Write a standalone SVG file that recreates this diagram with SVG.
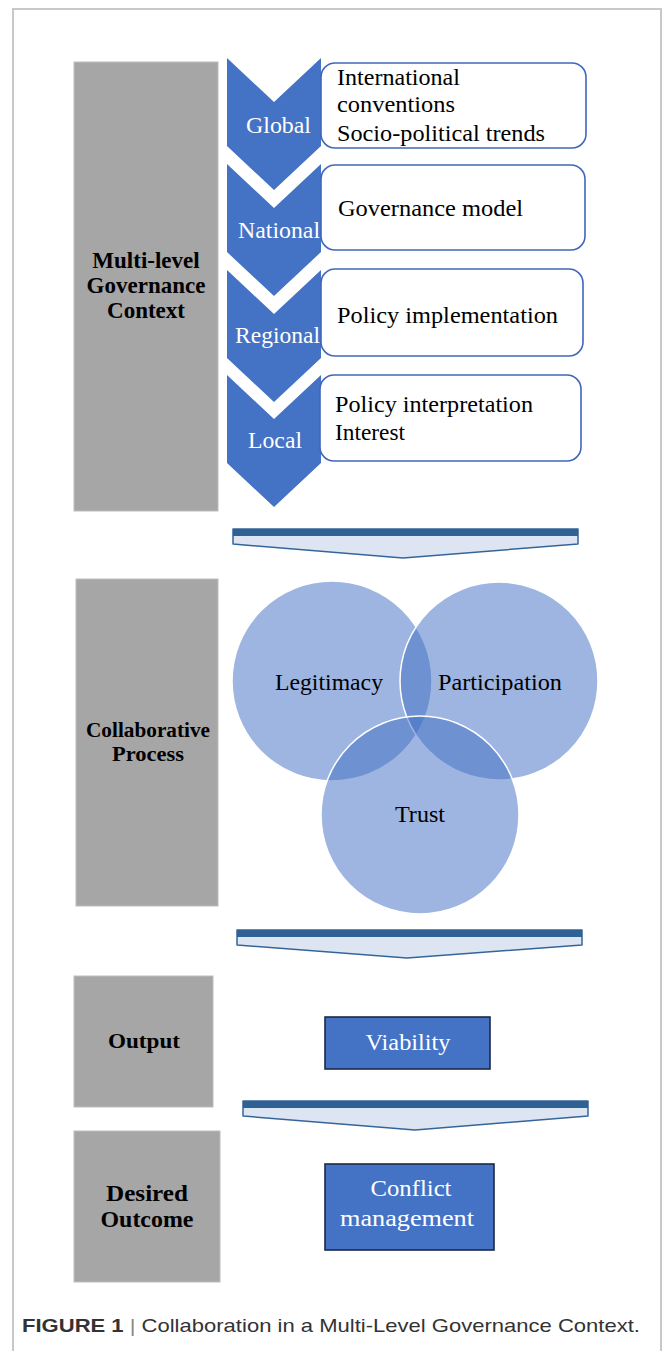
<svg xmlns="http://www.w3.org/2000/svg" width="663" height="1351" viewBox="0 0 663 1351">
  <defs>
    <style>
      .frame { stroke: #c8c8c8; stroke-width: 2; fill: none; }
      .stage { fill: #a6a6a6; stroke: #bdbdbd; stroke-width: 1; }
      .stage-label { font-family: "Liberation Serif", "Times New Roman", serif; font-weight: bold; fill: #000; text-anchor: middle; }
      .chev { fill: #4472c4; }
      .chev-label { font-family: "Liberation Serif", "Times New Roman", serif; font-size: 22.5px; fill: #ffffff; }
      .card { fill: #ffffff; stroke: #4067bb; stroke-width: 1.6; }
      .card-text { font-family: "Liberation Serif", "Times New Roman", serif; font-size: 22.5px; fill: #000; }
      .venn { fill: #4472c4; fill-opacity: 0.52; stroke: #ffffff; stroke-width: 1.5; }
      .venn-label { font-family: "Liberation Serif", "Times New Roman", serif; font-size: 22.5px; fill: #000; }
      .flow-body { fill: #dde5f3; stroke: #34659a; stroke-width: 1.5; stroke-linejoin: round; }
      .flow-band { fill: #2f6194; }
      .result { fill: #4472c4; stroke: #1c2a48; stroke-width: 1.6; }
      .result-text { font-family: "Liberation Serif", "Times New Roman", serif; font-size: 23px; fill: #ffffff; text-anchor: middle; }
      .caption { font-family: "Liberation Sans", Arial, sans-serif; font-size: 19px; fill: #333333; }
    </style>
  </defs>

  <rect width="663" height="1351" fill="#ffffff"/>

  <!-- figure frame -->
  <path class="frame" d="M13,1351 V9 H661 V1351"/>

  <!-- stage column -->
  <g id="stage-context">
    <rect class="stage" x="74" y="62" width="144" height="449"/>
    <text class="stage-label" font-size="23"><tspan x="146" y="268">Multi-level</tspan><tspan x="146" y="293">Governance</tspan><tspan x="146" y="318">Context</tspan></text>
  </g>
  <g id="stage-process">
    <rect class="stage" x="76" y="579" width="142" height="327"/>
    <text class="stage-label" font-size="20" x="148" y="737" textLength="124" lengthAdjust="spacingAndGlyphs">Collaborative</text>
    <text class="stage-label" font-size="20" x="148" y="761" textLength="72" lengthAdjust="spacingAndGlyphs">Process</text>
  </g>
  <g id="stage-output">
    <rect class="stage" x="74" y="976" width="139" height="131"/>
    <text class="stage-label" font-size="21" x="144" y="1048" textLength="72" lengthAdjust="spacingAndGlyphs">Output</text>
  </g>
  <g id="stage-outcome">
    <rect class="stage" x="74" y="1131" width="146" height="151"/>
    <text class="stage-label" font-size="23.5" x="147" y="1201" textLength="82" lengthAdjust="spacingAndGlyphs">Desired</text>
    <text class="stage-label" font-size="23.5" x="147" y="1227" textLength="93" lengthAdjust="spacingAndGlyphs">Outcome</text>
  </g>

  <!-- governance levels: chevron + description card -->
  <g id="level-global">
    <polygon class="chev" points="227,58 274,102 321,58 321,146 274,190 227,146"/>
    <text class="chev-label" x="246" y="133" textLength="65" lengthAdjust="spacingAndGlyphs">Global</text>
    <rect class="card" x="321" y="63" width="265" height="85" rx="14"/>
    <text class="card-text" x="337" y="85" textLength="123" lengthAdjust="spacingAndGlyphs">International</text>
    <text class="card-text" x="337" y="112" textLength="118" lengthAdjust="spacingAndGlyphs">conventions</text>
    <text class="card-text" x="337" y="141" textLength="208" lengthAdjust="spacingAndGlyphs">Socio-political trends</text>
  </g>
  <g id="level-national">
    <polygon class="chev" points="227,164 274,208 321,164 321,252 274,296 227,252"/>
    <text class="chev-label" x="238" y="238" textLength="82" lengthAdjust="spacingAndGlyphs">National</text>
    <rect class="card" x="321" y="165" width="264" height="85" rx="14"/>
    <text class="card-text" x="338" y="216" textLength="185" lengthAdjust="spacingAndGlyphs">Governance model</text>
  </g>
  <g id="level-regional">
    <polygon class="chev" points="227,270 274,314 321,270 321,358 274,402 227,358"/>
    <text class="chev-label" x="235" y="343" textLength="85" lengthAdjust="spacingAndGlyphs">Regional</text>
    <rect class="card" x="321" y="269" width="262" height="87" rx="14"/>
    <text class="card-text" x="337" y="323" textLength="221" lengthAdjust="spacingAndGlyphs">Policy implementation</text>
  </g>
  <g id="level-local">
    <polygon class="chev" points="227,375 274,419 321,375 321,463 274,507 227,463"/>
    <text class="chev-label" x="248" y="448" textLength="54" lengthAdjust="spacingAndGlyphs">Local</text>
    <rect class="card" x="320" y="375" width="261" height="86" rx="14"/>
    <text class="card-text" x="335" y="412" textLength="198" lengthAdjust="spacingAndGlyphs">Policy interpretation</text>
    <text class="card-text" x="335" y="440" textLength="70" lengthAdjust="spacingAndGlyphs">Interest</text>
  </g>

  <!-- collaborative process -->
  <g id="venn-legitimacy">
    <circle class="venn" cx="332" cy="681" r="100"/>
  </g>
  <g id="venn-participation">
    <circle class="venn" cx="499" cy="681" r="99"/>
  </g>
  <g id="venn-trust">
    <circle class="venn" cx="420" cy="815" r="99"/>
  </g>
  <g id="venn-labels">
    <text class="venn-label" x="275" y="690" textLength="108" lengthAdjust="spacingAndGlyphs">Legitimacy</text>
    <text class="venn-label" x="438" y="690" textLength="124" lengthAdjust="spacingAndGlyphs">Participation</text>
    <text class="venn-label" x="395" y="822" textLength="50" lengthAdjust="spacingAndGlyphs">Trust</text>
  </g>

  <!-- results -->
  <g id="result-viability">
    <rect class="result" x="325" y="1017" width="165" height="52"/>
    <text class="result-text" x="408" y="1050" textLength="85" lengthAdjust="spacingAndGlyphs">Viability</text>
  </g>
  <g id="result-conflict">
    <rect class="result" x="325" y="1164" width="169" height="86"/>
    <text class="result-text" x="411" y="1196" textLength="81" lengthAdjust="spacingAndGlyphs">Conflict</text>
    <text class="result-text" x="407" y="1226" textLength="134" lengthAdjust="spacingAndGlyphs">management</text>
  </g>

  <!-- connectors: wide downward flow arrows between stages -->
  <g id="connectors">
    <g id="flow-1">
      <polygon class="flow-body" points="233,529 578,529 578,544 403,558 233,544"/>
      <rect class="flow-band" x="233" y="529" width="345" height="7"/>
    </g>
    <g id="flow-2">
      <polygon class="flow-body" points="237,930 582,930 582,945 407,958 237,945"/>
      <rect class="flow-band" x="237" y="930" width="345" height="7"/>
    </g>
    <g id="flow-3">
      <polygon class="flow-body" points="243,1101 588,1101 588,1116 415,1130 243,1116"/>
      <rect class="flow-band" x="243" y="1101" width="345" height="7"/>
    </g>
  </g>

  <!-- caption -->
  <text class="caption" x="22" y="1332" textLength="618" lengthAdjust="spacingAndGlyphs"><tspan font-weight="bold">FIGURE 1</tspan><tspan fill="#888888"> | </tspan><tspan>Collaboration in a Multi-Level Governance Context.</tspan></text>
</svg>
